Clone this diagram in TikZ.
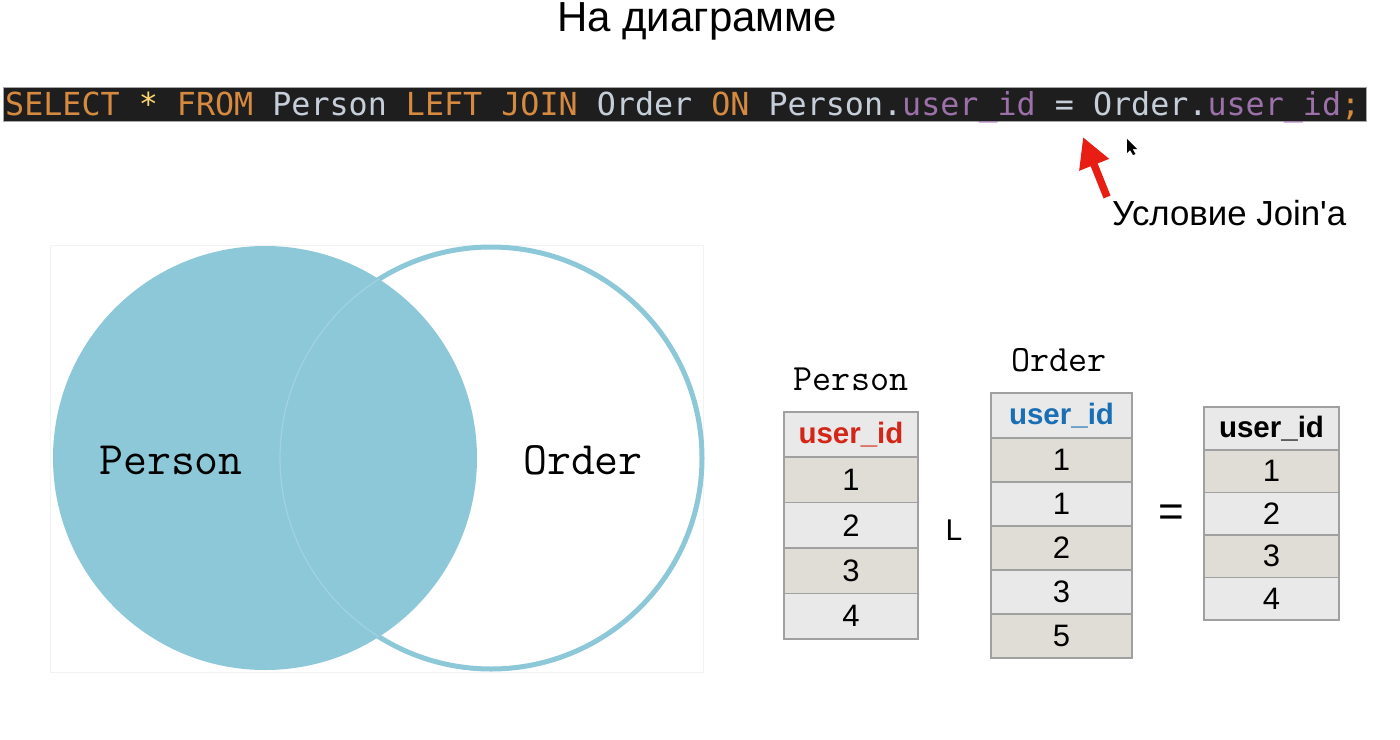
\documentclass[tikz,border=0pt]{standalone}
\usepackage{fontspec}
\usepackage{xcolor}
\setmainfont{Liberation Sans}
\newfontfamily\codefont{DejaVu Sans Mono}
\usepackage{tikz}
\usetikzlibrary{arrows.meta}
\definecolor{venn}{RGB}{141,200,216}
\definecolor{vennedge}{RGB}{160,210,224}
\definecolor{bar}{RGB}{30,30,30}
\definecolor{kw}{RGB}{214,138,64}
\definecolor{star}{RGB}{250,214,112}
\definecolor{ident}{RGB}{198,206,218}
\definecolor{field}{RGB}{156,112,168}
\definecolor{rowa}{RGB}{223,221,213}
\definecolor{rowb}{RGB}{233,233,233}
\definecolor{tabline}{RGB}{160,160,160}
\definecolor{hdred}{RGB}{212,38,24}
\definecolor{hdblue}{RGB}{26,110,180}
\definecolor{arrred}{RGB}{232,30,20}

\begin{document}
\begin{tikzpicture}[x=1pt,y=-1pt]
\tikzstyle{cell}=[draw=tabline, line width=1.2pt, inner sep=0pt, font=\fontsize{31}{31}\selectfont]
\tikzstyle{head}=[cell, fill=rowb, font=\bfseries\fontsize{29.5}{30}\selectfont]
\tikzstyle{tname}=[inner sep=0pt, font=\ttfamily\fontsize{37}{37}\selectfont]
\tikzstyle{vname}=[inner sep=0pt, font=\ttfamily\fontsize{46.5}{46.5}\selectfont]
\useasboundingbox (0,0) rectangle (1400,739);

\node[inner sep=0pt, font=\fontsize{42}{42}\selectfont] (title) at (697,21) {На диаграмме};

% query bar
\draw[fill=bar, draw=gray!70, line width=0.8pt] (3,87) rectangle (1366,121);
\node[anchor=base west, inner sep=0pt, font=\codefont\fontsize{31.7}{32}\selectfont] (sql) at (5,115)
  {\textcolor{kw}{SELECT} \textcolor{star}{*} \textcolor{kw}{FROM} \textcolor{ident}{Person} \textcolor{kw}{LEFT JOIN} \textcolor{ident}{Order} \textcolor{kw}{ON} \textcolor{ident}{Person.}\textcolor{field}{user\_id} \textcolor{ident}{=} \textcolor{ident}{Order.}\textcolor{field}{user\_id}\textcolor{kw}{;}};

\node[anchor=base west, inner sep=0pt, font=\fontsize{34.8}{35}\selectfont] (cond) at (1112,225) {Условие Join\textquotesingle a};
\coordinate (arrtail) at (1107,197);
\coordinate (arrtip) at (1083,137);
\draw[arrred, line width=7.5pt, -{Triangle[length=30pt,width=30pt]}] (arrtail) -- (arrtip);
\fill (1127,139) -- (1127,153) -- (1130,150) -- (1133,155) -- (1135.5,154) -- (1132.5,149) -- (1137,149) -- cycle;

% venn
\draw[draw=black!5, fill=white] (50,245) rectangle (703,672);
\draw[venn, line width=5pt, fill=white] (491,458) circle (211);
\fill[venn] (265,458) circle (212);
\begin{scope}
  \clip (265,458) circle (212);
  \draw[vennedge, line width=1.2pt] (491,458) circle (211);
\end{scope}
\node[vname] (vperson) at (171,460) {Person};
\node[vname] (vorder) at (583,460) {Order};

% tables
\node[tname] (lperson) at (851,379) {Person};
\node[tname] (lorder) at (1059,360) {Order};
\node[head, text=hdred, minimum width=134pt, minimum height=45pt] (ph) at (851,434.5) {user\_id};
\foreach \v/\c [count=\i] in {1/rowa,2/rowb,3/rowa,4/rowb}
    \node[cell, fill=\c, minimum width=134pt, minimum height=45.5pt] (p\i) at (851,{457+45.5*(\i-0.5)}) {\v};
\node[head, text=hdblue, minimum width=141pt, minimum height=45pt] (oh) at (1061.5,415.5) {user\_id};
\foreach \v/\c [count=\i] in {1/rowa,1/rowb,2/rowa,3/rowb,5/rowa}
    \node[cell, fill=\c, minimum width=141pt, minimum height=44pt] (o\i) at (1061.5,{438+44*(\i-0.5)}) {\v};
\node[head, text=black, minimum width=135pt, minimum height=43pt] (rh) at (1271.5,428.5) {user\_id};
\foreach \v/\c [count=\i] in {1/rowa,2/rowb,3/rowa,4/rowb}
    \node[cell, fill=\c, minimum width=135pt, minimum height=42.5pt] (r\i) at (1271.5,{450+42.5*(\i-0.5)}) {\v};

\node[inner sep=0pt, font=\fontsize{30}{30}\selectfont] (lj) at (954,530) {L};
\node[inner sep=0pt, font=\fontsize{44}{44}\selectfont] (eq) at (1171,516) {=};
\end{tikzpicture}
\end{document}
